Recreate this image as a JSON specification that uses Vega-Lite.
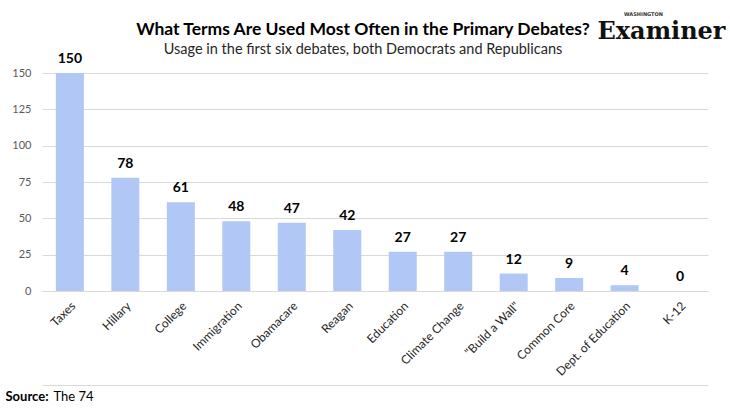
{
  "$schema": "https://vega.github.io/schema/vega-lite/v6.json",
  "width": 666,
  "height": 218,
  "autosize": {"type": "none"},
  "padding": {"left": 42, "top": 73, "right": 22, "bottom": 120},
  "background": "white",
  "config": {
    "font": "Lato",
    "view": {"stroke": null}
  },
  "title": {
    "text": "What Terms Are Used Most Often in the Primary Debates?",
    "subtitle": "Usage in the first six debates, both Democrats and Republicans",
    "anchor": "middle",
    "frame": "group",
    "dx": -12,
    "dy": 53,
    "font": "Lato",
    "fontSize": 17.5,
    "fontWeight": "bold",
    "color": "#000000",
    "subtitleFont": "Lato",
    "subtitleFontSize": 14.5,
    "subtitleColor": "#262626",
    "subtitlePadding": 4,
    "offset": 8
  },
  "data": {
    "values": [
      {"term": "Taxes", "count": 150},
      {"term": "Hillary", "count": 78},
      {"term": "College", "count": 61},
      {"term": "Immigration", "count": 48},
      {"term": "Obamacare", "count": 47},
      {"term": "Reagan", "count": 42},
      {"term": "Education", "count": 27},
      {"term": "Climate Change", "count": 27},
      {"term": "\"Build a Wall\"", "count": 12},
      {"term": "Common Core", "count": 9},
      {"term": "Dept. of Education", "count": 4},
      {"term": "K-12", "count": 0}
    ]
  },
  "layer": [
    {
      "mark": {"type": "bar", "color": "#b1c8f6"},
      "encoding": {
        "x": {
          "field": "term",
          "type": "nominal",
          "sort": null,
          "scale": {"paddingInner": 0.495, "paddingOuter": 0.25},
          "axis": {
            "orient": "bottom",
            "labelAngle": -45,
            "labelFontSize": 12,
            "labelColor": "#262626",
            "labelPadding": 9,
            "ticks": false,
            "domain": true,
            "domainColor": "#d9d9d9",
            "grid": false,
            "title": "Source:",
            "titleFontSize": 13,
            "titleFontWeight": "bold",
            "titleColor": "#000000",
            "titleAnchor": "start",
            "titleAlign": "left",
            "titleBaseline": "alphabetic",
            "titleX": -37,
            "titleY": 109
          }
        },
        "y": {
          "field": "count",
          "type": "quantitative",
          "scale": {"domain": [0, 150], "nice": false},
          "axis": {
            "orient": "left",
            "values": [0, 25, 50, 75, 100, 125, 150],
            "labelFontSize": 11,
            "labelColor": "#595959",
            "labelPadding": 11,
            "ticks": false,
            "domain": false,
            "grid": true,
            "gridColor": "#d9d9d9",
            "title": "WASHINGTON",
            "titleFont": "DejaVu Sans",
            "titleFontSize": 5,
            "titleFontWeight": "bold",
            "titleColor": "#333333",
            "titleAngle": 0,
            "titleAlign": "center",
            "titleBaseline": "alphabetic",
            "titleX": 601,
            "titleY": -58
          }
        }
      }
    },
    {
      "mark": {"type": "text", "fontSize": 14, "fontWeight": "bold", "color": "#000000", "baseline": "alphabetic", "dy": -10},
      "encoding": {
        "x": {
          "field": "term",
          "type": "nominal",
          "sort": null,
          "axis": {
            "orient": "top",
            "offset": -312,
            "labels": false,
            "ticks": false,
            "domain": true,
            "domainColor": "#d9d9d9",
            "grid": false,
            "title": "The 74",
            "titleFontSize": 13,
            "titleFontWeight": "normal",
            "titleColor": "#000000",
            "titleAnchor": "start",
            "titleAlign": "left",
            "titleBaseline": "alphabetic",
            "titleX": 11,
            "titleY": 15
          }
        },
        "y": {
          "field": "count",
          "type": "quantitative",
          "axis": {
            "orient": "right",
            "labels": false,
            "ticks": false,
            "domain": false,
            "grid": false,
            "title": "Examiner",
            "titleFont": "DejaVu Serif",
            "titleFontSize": 24,
            "titleFontWeight": "bold",
            "titleColor": "#111111",
            "titleAngle": 0,
            "titleAlign": "center",
            "titleBaseline": "alphabetic",
            "titleX": -47,
            "titleY": -35
          }
        },
        "text": {"field": "count", "type": "quantitative"}
      }
    }
  ],
  "resolve": {"axis": {"x": "independent", "y": "independent"}}
}
